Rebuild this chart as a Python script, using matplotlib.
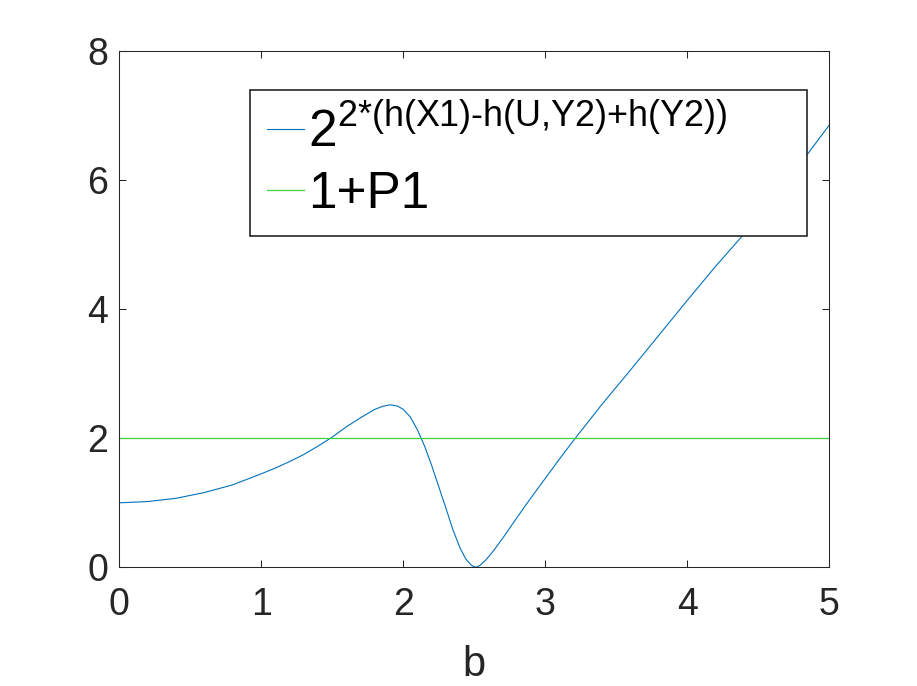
import numpy as np
import matplotlib
matplotlib.use("Agg")
import matplotlib.pyplot as plt

plt.rcParams['font.family'] = ['Liberation Sans', 'DejaVu Sans']
plt.rcParams['mathtext.fontset'] = 'custom'
plt.rcParams['mathtext.rm'] = 'Liberation Sans'
plt.rcParams['mathtext.it'] = 'Liberation Sans'
plt.rcParams['mathtext.bf'] = 'Liberation Sans'

# curve
b_vals = [0, 0.2, 0.4, 0.6, 0.8, 1.0, 1.1, 1.2, 1.3, 1.4, 1.5, 1.6, 1.7, 1.8,
          1.86, 1.91, 1.96, 2.0, 2.05, 2.1, 2.15, 2.2, 2.25, 2.3, 2.35, 2.4,
          2.44, 2.48, 2.51, 2.54, 2.58, 2.64, 2.7, 2.8, 2.9, 3.0, 3.1, 3.2,
          3.4, 3.6, 3.8, 4.0, 4.2, 4.4, 4.6, 4.8, 5.0]
rate_vals = [1.00, 1.02, 1.07, 1.16, 1.28, 1.45, 1.54, 1.64, 1.75, 1.88, 2.02, 2.18, 2.32, 2.45,
             2.50, 2.52, 2.50, 2.45, 2.33, 2.13, 1.88, 1.58, 1.25, 0.92, 0.58, 0.30,
             0.13, 0.03, 0.00, 0.03, 0.11, 0.27, 0.45, 0.77, 1.08, 1.38, 1.68, 1.97,
             2.53, 3.06, 3.60, 4.14, 4.67, 5.17, 5.72, 6.27, 6.86]
p1_level = 2.0

x_ticks = [0, 1, 2, 3, 4, 5]
y_ticks = [0, 2, 4, 6, 8]

label_curve = r'$2^{\text{2*(h(X1)-h(U,Y2)+h(Y2))}}$'
label_flat = '1+P1'

fig = plt.figure(figsize=(9.17, 6.86), dpi=100)
ax = fig.add_axes([0.130, 0.173, 0.7744, 0.752])

ax.plot(b_vals, rate_vals, color='#0072BD', linewidth=0.8, label=label_curve)
ax.plot([0, 5], [p1_level, p1_level], color='#3fd13f', linewidth=0.9, label=label_flat)

ax.set_xlim(0, 5)
ax.set_ylim(0, 8)
ax.set_xticks(x_ticks)
ax.set_yticks(y_ticks)
ax.tick_params(direction='in', length=5, width=0.75, colors='#262626',
               labelsize=27, top=True, right=True)
ax.tick_params(axis='x', pad=14)
ax.tick_params(axis='y', pad=8)
for s in ax.spines.values():
    s.set_color('#262626')
    s.set_linewidth(0.75)
ax.set_xlabel('b', fontsize=30, color='#262626', labelpad=16)

# legend box spans a fixed width (mode='expand')
leg = ax.legend(loc='upper left', bbox_to_anchor=(0.1841, 0.0, 0.7845, 0.925),
                mode='expand', fontsize=37,
                handlelength=0.72, handletextpad=0.08, borderpad=0.33,
                labelspacing=0.24, fancybox=False, framealpha=1,
                edgecolor='#262626', borderaxespad=0)
leg.get_frame().set_linewidth(1.2)

fig.savefig('out.png', dpi=100)
